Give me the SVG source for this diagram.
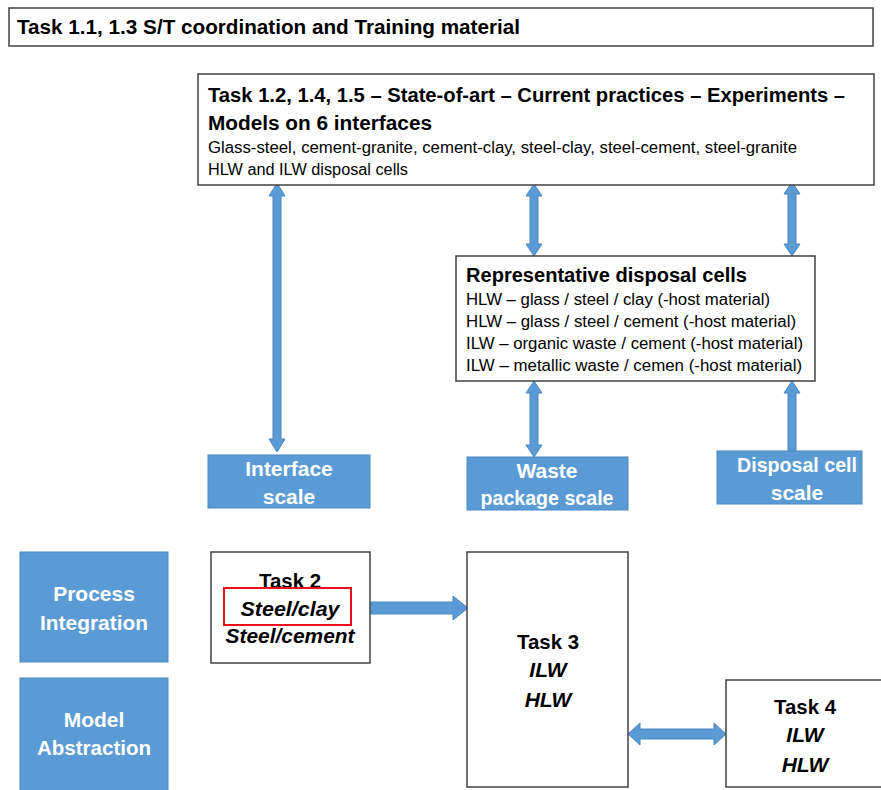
<svg xmlns="http://www.w3.org/2000/svg" width="881" height="790" viewBox="0 0 881 790">
<style>
text{font-family:"Liberation Sans",Arial,sans-serif;fill:#000}
.box{fill:#fff;stroke:#404040;stroke-width:1.5}
.blue{fill:#5B9BD5;stroke:#4A88C2;stroke-width:1}
.arr{fill:#5B9BD5;stroke:#4A86BE;stroke-width:1}
.t{font-weight:bold;font-size:20px}
.s{font-size:16px}
.w{fill:#fff;font-weight:bold;font-size:21px;text-anchor:middle}
.k{font-weight:bold;font-size:21px;text-anchor:middle}
.ki{font-weight:bold;font-style:italic;font-size:21px;text-anchor:middle}
</style>
<rect width="881" height="790" fill="#fff"/>
<g id="connectors">
<polygon class="arr" points="277,183 285,196 281,196 281,439 285,439 277,452 269,439 273,439 273,196 269,196"/>
<polygon class="arr" points="534,184 542,196 538,196 538,244 542,244 534,256 526,244 530,244 530,196 526,196"/>
<polygon class="arr" points="792,182 800,194 796,194 796,244 800,244 792,256 784,244 788,244 788,194 784,194"/>
<polygon class="arr" points="534,381 542,393 538,393 538,445 542,445 534,457 526,445 530,445 530,393 526,393"/>
<polygon class="arr" points="792,381 800,393 796,393 796,460 788,460 788,393 784,393"/>
<polygon class="arr" points="371,602 453,602 453,596 468,608 453,620 453,614 371,614"/>
<polygon class="arr" points="628,734 640,723 640,729 714,729 714,723 726,734 714,745 714,739 640,739 640,745"/>
</g>
<g id="task11">
<rect class="box" x="9" y="8" width="864" height="38"/>
<text class="t" x="17" y="34" textLength="503" lengthAdjust="spacingAndGlyphs">Task 1.1, 1.3 S/T coordination and Training material</text>
</g>
<g id="task12">
<rect class="box" x="198" y="74" width="676" height="111"/>
<text class="t" x="208" y="102" font-size="21" textLength="637" lengthAdjust="spacingAndGlyphs">Task 1.2, 1.4, 1.5 – State-of-art – Current practices – Experiments –</text>
<text class="t" x="208" y="130" font-size="21" textLength="224" lengthAdjust="spacingAndGlyphs">Models on 6 interfaces</text>
<text class="s" x="208" y="153" textLength="589" lengthAdjust="spacingAndGlyphs">Glass-steel, cement-granite, cement-clay, steel-clay, steel-cement, steel-granite</text>
<text class="s" x="208" y="175" textLength="200" lengthAdjust="spacingAndGlyphs">HLW and ILW disposal cells</text>
</g>
<g id="cells">
<rect class="box" x="456" y="256" width="359" height="125"/>
<text class="t" x="466" y="282" textLength="281" lengthAdjust="spacingAndGlyphs">Representative disposal cells</text>
<text class="s" x="466" y="305" textLength="304" lengthAdjust="spacingAndGlyphs">HLW – glass / steel / clay (-host material)</text>
<text class="s" x="466" y="327" textLength="330" lengthAdjust="spacingAndGlyphs">HLW – glass / steel / cement (-host material)</text>
<text class="s" x="466" y="349" textLength="337" lengthAdjust="spacingAndGlyphs">ILW – organic waste / cement (-host material)</text>
<text class="s" x="466" y="371" textLength="336" lengthAdjust="spacingAndGlyphs">ILW – metallic waste / cemen (-host material)</text>
</g>
<g id="interface-scale">
<rect class="blue" x="208" y="455" width="162" height="53"/>
<text class="w" x="289" y="476">Interface</text>
<text class="w" x="289" y="504">scale</text>
</g>
<g id="waste-package-scale">
<rect class="blue" x="467" y="457" width="161" height="53"/>
<text class="w" x="547" y="478">Waste</text>
<text class="w" x="547" y="505" textLength="133" lengthAdjust="spacingAndGlyphs">package scale</text>
</g>
<g id="disposal-cell-scale">
<rect class="blue" x="717" y="451" width="145" height="53"/>
<text class="w" x="797" y="472" textLength="120" lengthAdjust="spacingAndGlyphs">Disposal cell</text>
<text class="w" x="797" y="500">scale</text>
</g>
<g id="process-integration">
<rect class="blue" x="20" y="552" width="148" height="110"/>
<text class="w" x="94" y="601">Process</text>
<text class="w" x="94" y="630" textLength="108" lengthAdjust="spacingAndGlyphs">Integration</text>
</g>
<g id="model-abstraction">
<rect class="blue" x="20" y="678" width="148" height="115"/>
<text class="w" x="94" y="727">Model</text>
<text class="w" x="94" y="755" textLength="114" lengthAdjust="spacingAndGlyphs">Abstraction</text>
</g>
<g id="task2">
<rect class="box" x="211" y="552" width="159" height="111"/>
<text class="k" x="290" y="588" textLength="62" lengthAdjust="spacingAndGlyphs">Task 2</text>
<text class="ki" x="290" y="616" textLength="99" lengthAdjust="spacingAndGlyphs">Steel/clay</text>
<text class="ki" x="290" y="643" textLength="129" lengthAdjust="spacingAndGlyphs">Steel/cement</text>
<rect x="224" y="588" width="127" height="37" fill="none" stroke="#E8101A" stroke-width="2"/>
</g>
<g id="task3">
<rect class="box" x="467" y="552" width="161" height="235"/>
<text class="k" x="548" y="649" textLength="62" lengthAdjust="spacingAndGlyphs">Task 3</text>
<text class="ki" x="548" y="677">ILW</text>
<text class="ki" x="548" y="707">HLW</text>
</g>
<g id="task4">
<rect class="box" x="726" y="680" width="160" height="107"/>
<text class="k" x="805" y="714" textLength="62" lengthAdjust="spacingAndGlyphs">Task 4</text>
<text class="ki" x="805" y="742">ILW</text>
<text class="ki" x="805" y="772">HLW</text>
</g>
</svg>
